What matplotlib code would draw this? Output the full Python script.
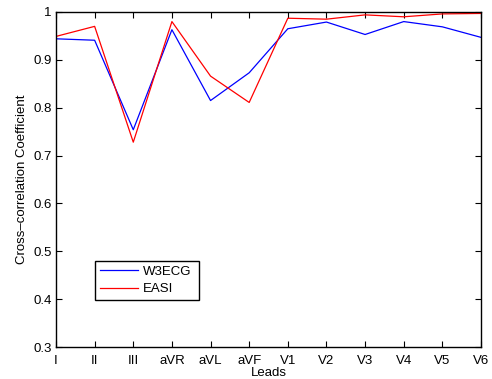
import matplotlib
matplotlib.use("Agg")
import matplotlib.pyplot as plt

leads = ['I', 'II', 'III', 'aVR', 'aVL', 'aVF', 'V1', 'V2', 'V3', 'V4', 'V5', 'V6']
w3ecg = [0.944, 0.941, 0.754, 0.963, 0.815, 0.873, 0.965, 0.979, 0.953, 0.980, 0.969, 0.947]
easi = [0.949, 0.970, 0.728, 0.980, 0.866, 0.811, 0.987, 0.985, 0.994, 0.990, 0.996, 0.997]
yticks = [0.3, 0.4, 0.5, 0.6, 0.7, 0.8, 0.9, 1]
ylabels = ['0.3', '0.4', '0.5', '0.6', '0.7', '0.8', '0.9', '1']

plt.rcParams['font.family'] = ['Liberation Sans', 'DejaVu Sans']
plt.rcParams['font.size'] = 9.5

fig = plt.figure(figsize=(4.92, 3.79), dpi=100)
ax = fig.add_axes([56 / 492, 1 - 347 / 379, 425 / 492, 335 / 379])

x = list(range(len(leads)))
ax.plot(x, w3ecg, color='#0000ff', lw=0.9, label='W3ECG')
ax.plot(x, easi, color='#ff0000', lw=0.9, label='EASI')

ax.set_xlim(0, len(leads) - 1)
ax.set_ylim(0.3, 1)
ax.set_xticks(x)
ax.set_xticklabels(leads)
ax.set_yticks(yticks)
ax.set_yticklabels(ylabels)
ax.tick_params(direction='in', top=True, right=True, length=4, width=0.8)
ax.tick_params(axis='x', pad=6)
ax.tick_params(axis='y', pad=3)
for s in ax.spines.values():
    s.set_linewidth(1.0)

ax.set_xlabel('Leads', labelpad=0)
ax.set_ylabel('Cross\u2013correlation Coefficient', labelpad=4)

leg = ax.legend(loc='lower left', bbox_to_anchor=(0.092, 0.14, 0.245, 0.121),
                mode='expand', fancybox=False, edgecolor='black', framealpha=1,
                handlelength=2.9, handletextpad=0.4, borderaxespad=0,
                borderpad=0.35, labelspacing=0.4)
leg.get_frame().set_linewidth(1.0)

fig.savefig('out.png', dpi=100)
